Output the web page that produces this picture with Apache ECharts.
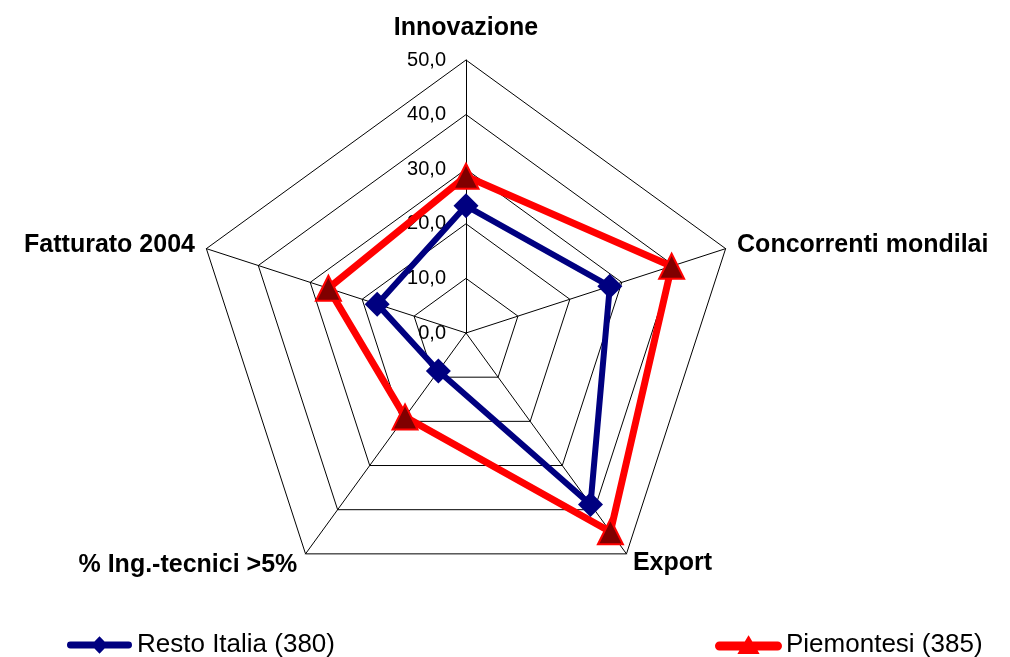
<!DOCTYPE html>
<html>
<head>
<meta charset="utf-8">
<script src="https://cdn.jsdelivr.net/npm/echarts@6/dist/echarts.min.js"></script>
<style>
  html, body { margin: 0; padding: 0; background: #fff; }
  #chart { width: 1010px; height: 657px; }
</style>
</head>
<body>
<div id="chart"></div>
<script>
// indicator order as ECharts lays them out (counter-clockwise from the top)
const categories = ["Innovazione", "Fatturato 2004", "% Ing.-tecnici >5%", "Export", "Concorrenti mondilai"];
const restoItalia = [23.3, 17.1, 8.6, 38.8, 27.7];
const piemontesi = [28.7, 26.5, 19.0, 45.0, 39.6];
const seriesNames = ["Resto Italia (380)", "Piemontesi (385)"];
const axisMax = 50;

const font = "Arial, 'Liberation Sans', sans-serif";
const nameGaps = [19, 12, 14, 11, 12];

const chart = echarts.init(document.getElementById("chart"));

const indicators = categories.map((name, i) => {
  const ind = { name: name, min: 0, max: axisMax, nameGap: nameGaps[i] };
  if (i === 0) {
    // only the top axis carries the value labels
    ind.axisLabel = {
      show: true,
      margin: 20,
      color: "#000",
      fontSize: 20,
      fontFamily: font,
      formatter: (v) => v.toFixed(1).replace(".", ","),
    };
  }
  return ind;
});

// legend icons: thick line with the series marker in the middle
const blueIcon = "path://M3,5.5 L62,5.5 A3.5,3.5 0 0 1 62,12.5 L3,12.5 A3.5,3.5 0 0 1 3,5.5 Z M32.5,0 L41,9 L32.5,18 L24,9 Z";
const redIcon = "path://M3,5.5 L62,5.5 A3.5,3.5 0 0 1 62,12.5 L3,12.5 A3.5,3.5 0 0 1 3,5.5 Z M32.5,0 L42,16 L23,16 Z";

const option = {
  animation: false,
  backgroundColor: "#fff",
  radar: {
    center: [466, 333],
    radius: 273,
    startAngle: 90,
    splitNumber: 5,
    shape: "polygon",
    indicator: indicators,
    axisName: {
      color: "#000",
      fontWeight: "bold",
      fontSize: 25,
      fontFamily: font,
    },
    axisLine: { lineStyle: { color: "#000", width: 1 } },
    splitLine: { lineStyle: { color: "#000", width: 1 } },
    splitArea: { show: false },
    axisTick: { show: false },
    axisLabel: { show: false },
  },
  legend: [
    {
      left: 67,
      top: 632,
      padding: 0,
      itemWidth: 65,
      itemHeight: 18,
      icon: blueIcon,
      textStyle: { color: "#000", fontSize: 26, fontFamily: font },
      data: [{ name: seriesNames[0], itemStyle: { color: "#000080" } }],
    },
    {
      left: 715,
      top: 632,
      padding: 0,
      itemWidth: 65,
      itemHeight: 18,
      icon: redIcon,
      textStyle: { color: "#000", fontSize: 26, fontFamily: font },
      data: [{ name: seriesNames[1], itemStyle: { color: "#ff0000" } }],
    },
  ],
  series: [
    {
      name: seriesNames[1],
      type: "radar",
      symbol: "triangle",
      symbolSize: 25,
      color: "#ff0000",
      lineStyle: { color: "#ff0000", width: 7 },
      itemStyle: { color: "#800000", borderColor: "#ff0000", borderWidth: 2 },
      data: [{ name: seriesNames[1], value: piemontesi }],
    },
    {
      name: seriesNames[0],
      type: "radar",
      symbol: "diamond",
      symbolSize: 25,
      color: "#000080",
      lineStyle: { color: "#000080", width: 6 },
      itemStyle: { color: "#000080" },
      data: [{ name: seriesNames[0], value: restoItalia }],
    },
  ],
};

chart.setOption(option);
</script>
</body>
</html>
